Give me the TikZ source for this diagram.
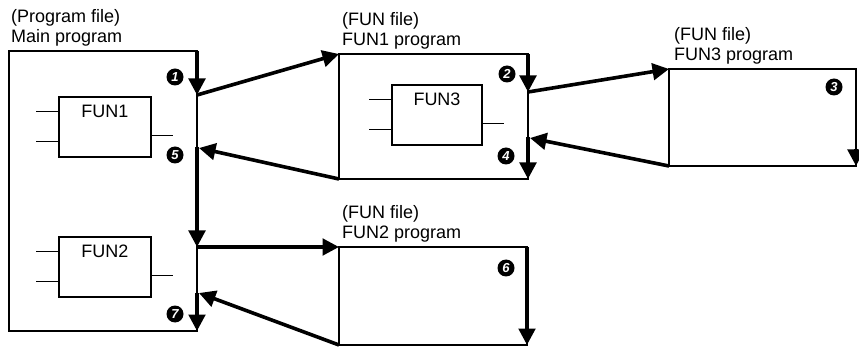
\documentclass[tikz,border=0pt]{standalone}
\usepackage{fontspec}
\setmainfont{Liberation Sans}
\usetikzlibrary{arrows.meta}
\begin{document}
\begin{tikzpicture}[x=1pt,y=-1pt,
  thinline/.style={line width=1.1pt},
  filebox/.style={draw, line width=1.1pt, rectangle, inner sep=0pt, outer sep=0pt, anchor=north west},
  fbbox/.style={draw, line width=1.1pt, rectangle, inner sep=0pt, outer sep=0pt, anchor=north west, minimum width=92pt, minimum height=60pt},
  callarrow/.style={line width=3.6pt, -{Triangle[length=16.5pt,width=16.5pt]}},
  lbl/.style={anchor=base west, inner sep=0pt, font=\fontsize{18}{20}\selectfont},
  fbtext/.style={anchor=base, inner sep=0pt, font=\fontsize{18}{20}\selectfont},
  num/.style={circle, fill=black, text=white, inner sep=0pt, minimum size=17pt, font=\fontsize{13}{13}\selectfont\bfseries\itshape}
]
\clip (0,0) rectangle (859,347);

% file boxes
\node[filebox, minimum width=188pt, minimum height=280pt] (main) at (9,51) {};
\node[filebox, minimum width=189pt, minimum height=125pt] (f1) at (339,54) {};
\node[filebox, minimum width=187pt, minimum height=97pt] (f3) at (669,69) {};
\node[filebox, minimum width=188pt, minimum height=98pt] (f2) at (339,247) {};

% labels
\node[lbl] (l0a) at (11,23) {(Program file)};
\node[lbl] (l0b) at (11,43) {Main program};
\node[lbl] (l1a) at (342,26) {(FUN file)};
\node[lbl] (l1b) at (342,46) {FUN1 program};
\node[lbl] (l3a) at (674,41) {(FUN file)};
\node[lbl] (l3b) at (674,61) {FUN3 program};
\node[lbl] (l2a) at (342,219) {(FUN file)};
\node[lbl] (l2b) at (342,239) {FUN2 program};

% function blocks
\node[fbbox] (b1) at (59,97) {};
\node[fbbox] (b2) at (59,237) {};
\node[fbbox, minimum width=90pt] (b3) at (392,85) {};
\node[fbtext] (t1) at ([yshift=-20.5pt]b1.north) {FUN1};
\node[fbtext] (t2) at ([yshift=-20.5pt]b2.north) {FUN2};
\node[fbtext] (t3) at ([yshift=-20.5pt]b3.north) {FUN3};
\foreach \b in {b1,b2,b3}{
  \draw[thinline] ([yshift=-14.5pt]\b.north west) -- ++(-23,0);
  \draw[thinline] ([yshift=-44.5pt]\b.north west) -- ++(-23,0);
  \draw[thinline] ([yshift=-38.5pt]\b.north east) -- ++(22,0);
}

% points on the edges
\coordinate (m1) at (197,95);
\coordinate (m5) at (197,147);
\coordinate (m5r) at (199,148);
\coordinate (m6) at (197,247);
\coordinate (m7) at (197,293);
\coordinate (m7r) at (199,293);
\coordinate (g2) at (528,92);
\coordinate (g4) at (528,137);
\coordinate (g4r) at (530,138);
\coordinate (h3) at (856,149);

% flow arrows
\draw[callarrow] (main.north east) -- (m1);
\draw[callarrow] (m1) -- (f1.north west);
\draw[callarrow] (f1.north east) -- (g2);
\draw[callarrow] (g2) -- (f3.north west);
\draw[callarrow] (h3) -- (f3.south east);
\draw[callarrow] (f3.south west) -- (g4r);
\draw[callarrow] (g4) -- (f1.south east);
\draw[callarrow] (f1.south west) -- (m5r);
\draw[callarrow] (m5) -- (m6);
\draw[callarrow] (m6) -- (f2.north west);
\draw[callarrow] (f2.north east) -- (f2.south east);
\draw[callarrow] (f2.south west) -- (m7r);
\draw[callarrow] (m7) -- (main.south east);

% step numbers
\node[num] (n1) at (175,77) {1};
\node[num] (n2) at (507,74) {2};
\node[num] (n3) at (834,87) {3};
\node[num] (n4) at (506,156) {4};
\node[num] (n5) at (175,155) {5};
\node[num] (n6) at (506,268) {6};
\node[num] (n7) at (175,314) {7};
\end{tikzpicture}
\end{document}
